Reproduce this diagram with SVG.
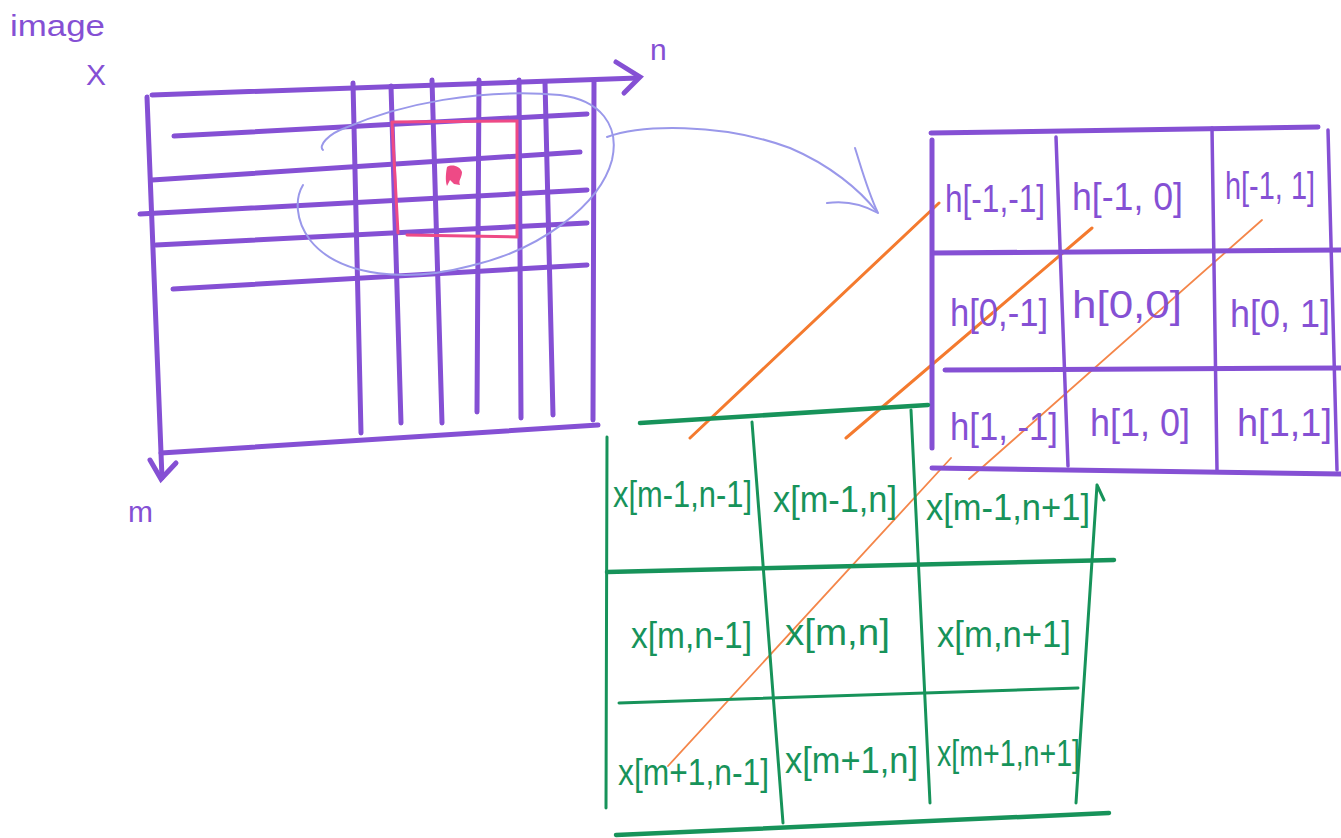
<svg xmlns="http://www.w3.org/2000/svg" width="1341" height="838" viewBox="0 0 1341 838">
<style>
.pg{stroke:#8550d4;stroke-width:5;fill:none;stroke-linecap:round}
.pgt{stroke:#8550d4;stroke-width:3.5;fill:none;stroke-linecap:round}
.gg{stroke:#17935a;stroke-width:3;fill:none;stroke-linecap:round}
.ggt{stroke:#17935a;stroke-width:4.5;fill:none;stroke-linecap:round}
.pk{stroke:#ee4a86;stroke-width:3;fill:none;stroke-linecap:round}
.bl{stroke:#9a98ea;stroke-width:2;fill:none;stroke-linecap:round}
.or{stroke:#f47a2e;stroke-width:3;fill:none;stroke-linecap:round}
.ort{stroke:#f4864a;stroke-width:1.8;fill:none;stroke-linecap:round}
.ht{font-family:"Liberation Sans","DejaVu Sans",sans-serif;font-size:38px;fill:#8550d4}
.xt{font-family:"Liberation Sans","DejaVu Sans",sans-serif;font-size:36px;fill:#17935a}
.lb{font-family:"Liberation Sans","DejaVu Sans",sans-serif;font-size:30px;fill:#8550d4}
</style>
<rect width="1341" height="838" fill="#ffffff"/>

<g id="image-grid">
  <text class="lb" x="10" y="36" textLength="95" lengthAdjust="spacingAndGlyphs">image</text>
  <text class="lb" x="86" y="85">X</text>
  <text class="lb" x="650" y="60">n</text>
  <text class="lb" x="128" y="522">m</text>
  <!-- axes -->
  <path class="pg" d="M152,95 L638,78"/>
  <path class="pg" d="M616,62 L640,77 L624,93"/>
  <path class="pg" d="M147,97 L162,478"/>
  <path class="pg" d="M150,460 L161,479 L176,463"/>
  <path class="pg" d="M161,453 L598,425"/>
  <!-- horizontal lines -->
  <path class="pg" d="M174,136 L587,114"/>
  <path class="pg" d="M152,180 L580,152"/>
  <path class="pg" d="M140,214 L587,190"/>
  <path class="pg" d="M156,245 L587,223"/>
  <path class="pg" d="M173,289 L587,265"/>
  <!-- vertical lines -->
  <path class="pg" d="M353,83 L361,433"/>
  <path class="pg" d="M391,86 L401,423"/>
  <path class="pg" d="M432,80 L442,423"/>
  <path class="pg" d="M479,80 L477,412"/>
  <path class="pg" d="M519,80 L521,418"/>
  <path class="pg" d="M545,82 L553,415"/>
  <path class="pg" d="M594,82 L593,420"/>
  <!-- pink window -->
  <path class="pk" d="M392,122 L517,121 L517,237 L407,235 M392,122 L398,233"/>
  <path d="M447,167 C452,164 460,166 462,172 C462,178 458,180 460,185 L454,184 L450,180 L447,186 C445,180 446,172 447,167 Z" fill="#ee4a86"/>
  <!-- lasso -->
  <path class="bl" d="M323,150 C318,146 328,134 345,128 C400,104 480,88 560,95 C600,100 620,125 612,160 C600,205 540,250 470,266 C410,282 340,278 310,240 C295,220 295,198 303,185"/>
</g>

<g id="connectors">
  <path class="bl" d="M607,137 C640,125 720,122 790,148 C830,165 860,190 877,212" stroke-width="3"/>
  <path class="bl" d="M855,148 C862,170 868,192 878,213 M827,203 C848,200 864,205 878,213" stroke-width="3"/>
  <path class="or" d="M939,203 L690,438"/>
  <path class="or" d="M1092,228 L846,438"/>
  <path class="ort" d="M1262,220 L969,479"/>
  <path class="ort" d="M951,458 L668,766"/>
</g>

<g id="kernel-h">
  <path class="pg" d="M931,133 L1318,127"/>
  <path class="pg" d="M932,140 L932,448"/>
  <path class="pgt" d="M1056,137 L1068,466"/>
  <path class="pgt" d="M1212,128 L1217,470"/>
  <path class="pgt" d="M1328,130 L1337,470"/>
  <path class="pg" d="M933,253 L1341,250"/>
  <path class="pg" d="M945,370 L1341,368"/>
  <path class="pg" d="M932,468 L1341,474"/>
  <text class="ht" x="945" y="212" textLength="100" lengthAdjust="spacingAndGlyphs">h[-1,-1]</text>
  <text class="ht" x="1072" y="210" textLength="111" lengthAdjust="spacingAndGlyphs">h[-1, 0]</text>
  <text class="ht" x="1225" y="199" textLength="90" lengthAdjust="spacingAndGlyphs">h[-1, 1]</text>
  <text class="ht" x="950" y="326" textLength="98" lengthAdjust="spacingAndGlyphs">h[0,-1]</text>
  <text class="ht" x="1072" y="318" textLength="110" lengthAdjust="spacingAndGlyphs">h[0,0]</text>
  <text class="ht" x="1230" y="327" textLength="100" lengthAdjust="spacingAndGlyphs">h[0, 1]</text>
  <text class="ht" x="950" y="440" textLength="108" lengthAdjust="spacingAndGlyphs">h[1, -1]</text>
  <text class="ht" x="1090" y="436" textLength="100" lengthAdjust="spacingAndGlyphs">h[1, 0]</text>
  <text class="ht" x="1237" y="436" textLength="95" lengthAdjust="spacingAndGlyphs">h[1,1]</text>
</g>

<g id="image-x">
  <path class="ggt" d="M640,423 L928,405"/>
  <path class="gg" d="M607,437 L606,808"/>
  <path class="gg" d="M752,422 L783,823"/>
  <path class="gg" d="M911,410 L930,803"/>
  <path class="gg" d="M1097,485 L1076,803 M1097,485 L1104,500"/>
  <path class="ggt" d="M607,572 L1114,560"/>
  <path class="gg" d="M619,703 L1078,688"/>
  <path class="ggt" d="M616,835 L1109,813"/>
  <text class="xt" x="613" y="507" textLength="139" lengthAdjust="spacingAndGlyphs">x[m-1,n-1]</text>
  <text class="xt" x="773" y="512" textLength="124" lengthAdjust="spacingAndGlyphs">x[m-1,n]</text>
  <text class="xt" x="926" y="520" textLength="164" lengthAdjust="spacingAndGlyphs">x[m-1,n+1]</text>
  <text class="xt" x="631" y="648" textLength="121" lengthAdjust="spacingAndGlyphs">x[m,n-1]</text>
  <text class="xt" x="785" y="645" textLength="105" lengthAdjust="spacingAndGlyphs">x[m,n]</text>
  <text class="xt" x="937" y="647" textLength="134" lengthAdjust="spacingAndGlyphs">x[m,n+1]</text>
  <text class="xt" x="618" y="785" textLength="151" lengthAdjust="spacingAndGlyphs">x[m+1,n-1]</text>
  <text class="xt" x="785" y="773" textLength="133" lengthAdjust="spacingAndGlyphs">x[m+1,n]</text>
  <text class="xt" x="937" y="766" textLength="143" lengthAdjust="spacingAndGlyphs">x[m+1,n+1]</text>
</g>
</svg>
